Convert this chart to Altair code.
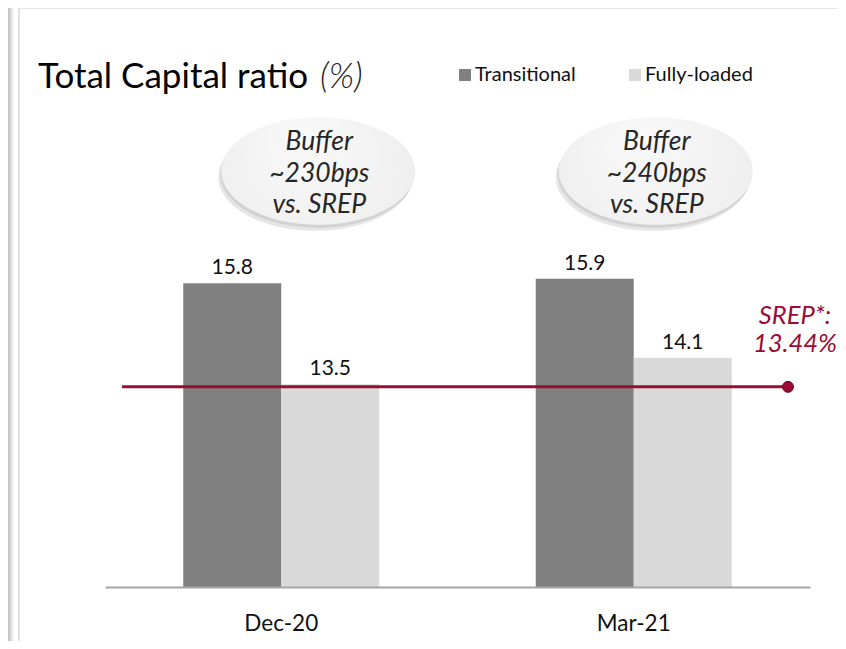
import altair as alt
import pandas as pd

# ---- data ----
categories = ["Dec-20", "Mar-21"]
series = ["Transitional", "Fully-loaded"]
transitional = [15.8, 15.9]
fully_loaded = [13.5, 14.1]
srep_value = 13.44
srep_text = ["SREP*:", "13.44%"]
buffer_text = [["Buffer", "~230bps", "vs. SREP"], ["Buffer", "~240bps", "vs. SREP"]]
title_main = "Total Capital ratio"
title_unit = "(%)"
bar_colors = ["#808080", "#d9d9d9"]
red = "#9a0c36"
FONT = "Lato"

rows = []
for i, c in enumerate(categories):
    rows.append({"period": c, "series": series[0], "value": transitional[i], "label": f"{transitional[i]:.1f}"})
    rows.append({"period": c, "series": series[1], "value": fully_loaded[i], "label": f"{fully_loaded[i]:.1f}"})
bars_df = pd.DataFrame(rows)
bubble_df = pd.DataFrame({"period": categories, "text": buffer_text})
srep_df = pd.DataFrame({"srep": [srep_value]})

W, H = 705, 579
xscale = alt.Scale(domain=categories, paddingInner=0.444, paddingOuter=0.222)
yscale = alt.Scale(domain=[8.88, 22.07], nice=False, zero=False)

X = alt.X("period:N", scale=xscale, sort=categories,
          axis=alt.Axis(title=None, labelAngle=0, ticks=False, domainColor="#a6a6a6",
                        domainWidth=2, labelFontSize=22.5, labelPadding=25, labelColor="#111111",
                        labelFont=FONT, grid=False, zindex=2))
XO = alt.XOffset("series:N", sort=series, scale=alt.Scale(domain=series, paddingInner=0, paddingOuter=0))
Y = alt.Y("value:Q", scale=yscale, axis=None, stack=None)

bars = alt.Chart(bars_df).mark_bar(size=98, clip=True).encode(
    x=X, xOffset=XO, y=Y, y2=alt.value(H),
    color=alt.Color("series:N", scale=alt.Scale(domain=series, range=bar_colors),
                    legend=alt.Legend(title=None, orient="none", legendX=350, legendY=57,
                                      direction="horizontal", symbolType="square", symbolSize=144,
                                      symbolStrokeWidth=0, labelFont=FONT, labelFontSize=20,
                                      labelColor="#111111", labelOffset=0, columnPadding=49,
                                      padding=0)),
)

labels = alt.Chart(bars_df).mark_text(font=FONT, fontSize=21, dy=-9, baseline="alphabetic",
                                      color="#111111").encode(
    x=X, xOffset=XO, y=Y, text="label:N")

ell_path = "M -1 0 A 1 0.555 0 1 1 1 0 A 1 0.555 0 1 1 -1 0 Z"
ell_size = 194 * 194
grad = alt.RadialGradient(gradient="radial", x1=0.42, y1=0.32, r1=0, x2=0.5, y2=0.5, r2=0.75,
                          stops=[alt.GradientStop(offset=0, color="#f9f9f9"),
                                 alt.GradientStop(offset=1, color="#eaeaea")])

bubble_layers = []
for idx, off in enumerate([37, 22]):
    sub = alt.Chart(bubble_df).transform_filter(alt.datum.period == categories[idx])
    shadow1 = sub.mark_point(shape=ell_path, size=ell_size, filled=True, fill="#9a9a9a",
                             opacity=0.25, strokeWidth=0, xOffset=off - 3, yOffset=6).encode(
        x=X, y=alt.value(163))
    shadow2 = sub.mark_point(shape=ell_path, size=ell_size, filled=True, fill="#b5b5b5",
                             opacity=0.35, strokeWidth=0, xOffset=off - 1, yOffset=3).encode(
        x=X, y=alt.value(163))
    ell = sub.mark_point(shape=ell_path, size=ell_size, filled=True, fill=grad, opacity=1,
                         strokeWidth=0, xOffset=off).encode(x=X, y=alt.value(163))
    txt = sub.mark_text(font=FONT, fontSize=26.5, fontStyle="italic", color="#262626",
                        lineHeight=31.5, baseline="middle", xOffset=off + 1).encode(
        x=X, y=alt.value(134), text="text")
    bubble_layers += [shadow2, shadow1, ell, txt]

srep_rule = alt.Chart(srep_df).mark_rule(color=red, strokeWidth=3).encode(
    x=alt.value(17), x2=alt.value(683), y=alt.Y("srep:Q", scale=yscale, axis=None))
srep_dot = alt.Chart(srep_df).mark_point(shape="circle", filled=True, fill=red, stroke="#6a0022",
                                         strokeWidth=1, size=120, opacity=1).encode(
    x=alt.value(683), y=alt.Y("srep:Q", scale=yscale, axis=None))
srep_lbl = alt.Chart(pd.DataFrame({"t": [srep_text]})).mark_text(
    font=FONT, fontSize=25.5, fontStyle="italic", color=red, lineHeight=28,
    baseline="middle", align="center").encode(x=alt.value(690), y=alt.value(308), text="t")

title_df = pd.DataFrame({"a": [title_main], "b": [title_unit]})
t1 = alt.Chart(title_df).mark_text(font=FONT, fontSize=35, align="left", baseline="alphabetic",
                                   color="#000000").encode(x=alt.value(-67), y=alt.value(80), text="a")
t2 = alt.Chart(title_df).mark_text(font=FONT, fontSize=35, fontStyle="italic", fontWeight=300,
                                   align="left", baseline="alphabetic", color="#222222").encode(
    x=alt.value(215), y=alt.value(80), text="b")

frame_df = pd.DataFrame({"k": [0]})
left_bar = alt.Chart(frame_df).mark_rect(
    fill=alt.LinearGradient(gradient="linear", x1=0, y1=0, x2=1, y2=0,
                            stops=[alt.GradientStop(offset=0, color="#bdbdbd"),
                                   alt.GradientStop(offset=1, color="#fafafa")])).encode(
    x=alt.value(-97), x2=alt.value(-91), y=alt.value(0), y2=alt.value(640))
left_line = alt.Chart(frame_df).mark_rule(color="#e2e2e2", strokeWidth=2).encode(
    x=alt.value(-86), y=alt.value(0), y2=alt.value(640))
top_line = alt.Chart(frame_df).mark_rule(color="#e6e6e6", strokeWidth=2).encode(
    x=alt.value(-86), x2=alt.value(740), y=alt.value(0))

chart = alt.layer(
    left_bar, left_line, top_line, bars, labels, *bubble_layers, srep_rule, srep_dot, srep_lbl, t1, t2
).properties(
    width=W, height=H,
    autosize=alt.AutoSizeParams(type="none"),
    padding={"left": 97, "top": 0, "right": 28, "bottom": 54},
    background="white",
).configure_view(stroke=None).configure_text(font=FONT)

chart.save("out.html", embed_options={"renderer": "svg", "actions": False})
